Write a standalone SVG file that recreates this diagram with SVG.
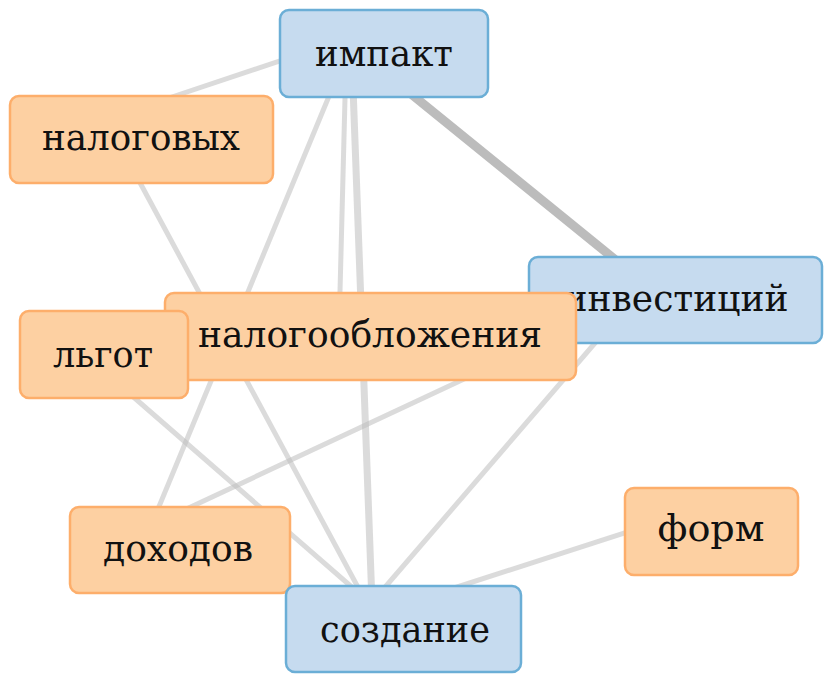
<svg xmlns="http://www.w3.org/2000/svg" width="835" height="684" viewBox="0 0 835 684">
<style>
.e{stroke:#bdbdbd;stroke-opacity:0.55;stroke-width:5;stroke-linecap:round;fill:none}
.b rect{fill:#c6dbef;stroke:#6baed6;stroke-width:2.5}
.o rect{fill:#fdd0a2;stroke:#fdae6b;stroke-width:2.5}
.t{font-family:'DejaVu Serif',serif;font-size:38px;fill:#111;text-anchor:middle}
</style>
<rect width="835" height="684" fill="#fff"/>
<g id="edges">
<line class="e" x1="384" y1="26" x2="160" y2="101"/>
<line class="e" x1="384" y1="72" x2="660" y2="296" style="stroke:#b0b0b0;stroke-opacity:0.85;stroke-width:9"/>
<line class="e" x1="344" y1="60" x2="141" y2="550"/>
<line class="e" x1="346" y1="60" x2="339" y2="330"/>
<line class="e" x1="352" y1="60" x2="373" y2="630" style="stroke-width:7"/>
<line class="e" x1="117" y1="140" x2="381" y2="630"/>
<line class="e" x1="84" y1="354" x2="400" y2="629"/>
<line class="e" x1="180" y1="512" x2="650" y2="292"/>
<line class="e" x1="632" y1="300" x2="374" y2="600"/>
<line class="e" x1="711" y1="505" x2="420" y2="599"/>
</g>
<g id="n-impakt" class="b"><rect x="280" y="10" width="208" height="87" rx="9"/><text class="t" x="384" y="66" textLength="138" lengthAdjust="spacingAndGlyphs">импакт</text></g>
<g id="n-nalogovyh" class="o"><rect x="10" y="96" width="263" height="87" rx="9"/><text class="t" x="141" y="150" textLength="198" lengthAdjust="spacingAndGlyphs">налоговых</text></g>
<g id="n-form" class="o"><rect x="625" y="488" width="173" height="87" rx="9"/><text class="t" x="711" y="541" textLength="107" lengthAdjust="spacingAndGlyphs">форм</text></g>
<g id="n-investiciy" class="b"><rect x="529" y="257" width="293" height="86" rx="9"/><text class="t" x="676" y="311" textLength="225" lengthAdjust="spacingAndGlyphs">инвестиций</text></g>
<g id="n-nalogooblozheniya" class="o"><rect x="165" y="293" width="411" height="87" rx="9"/><text class="t" x="370" y="347" textLength="344" lengthAdjust="spacingAndGlyphs">налогообложения</text></g>
<g id="n-lgot" class="o"><rect x="20" y="311" width="168" height="87" rx="9"/><text class="t" x="103" y="367" textLength="100" lengthAdjust="spacingAndGlyphs">льгот</text></g>
<g id="n-dohodov" class="o"><rect x="70" y="507" width="220" height="86" rx="9"/><text class="t" x="178" y="561" textLength="150" lengthAdjust="spacingAndGlyphs">доходов</text></g>
<g id="n-sozdanie" class="b"><rect x="286" y="586" width="235" height="86" rx="9"/><text class="t" x="405" y="642" textLength="170" lengthAdjust="spacingAndGlyphs">создание</text></g>
</svg>
